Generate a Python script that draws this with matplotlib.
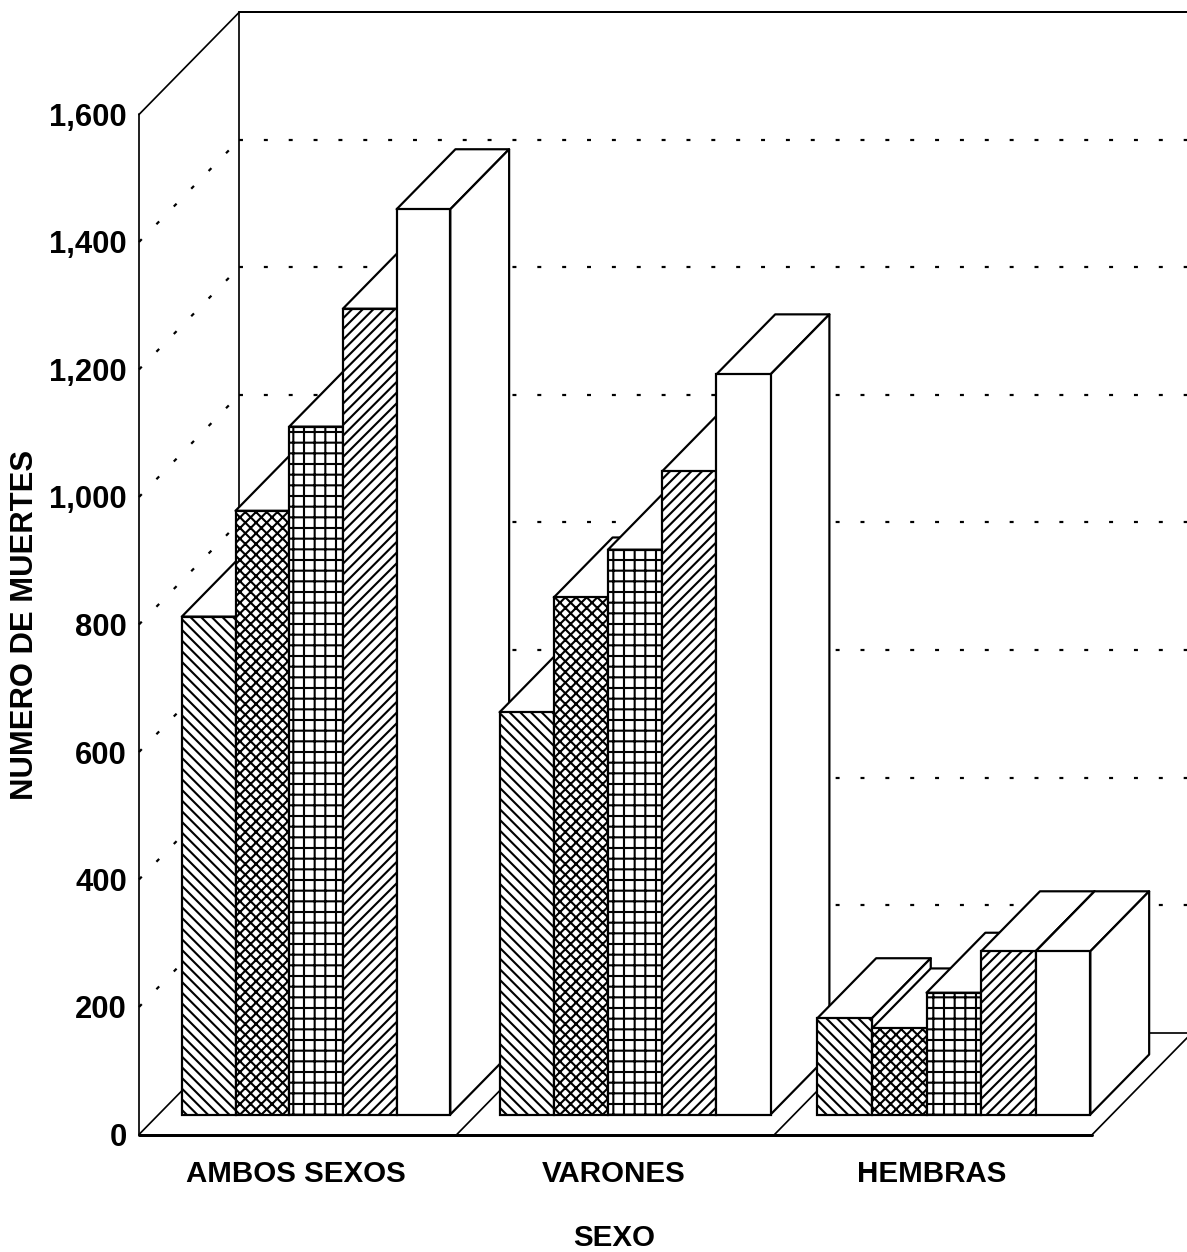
import matplotlib
matplotlib.use("Agg")
import matplotlib.pyplot as plt

# ---- data ----
groups = ["AMBOS SEXOS", "VARONES", "HEMBRAS"]
serie_1 = [781, 631, 151]
serie_2 = [947, 811, 135]
serie_3 = [1079, 886, 191]
serie_4 = [1264, 1009, 256]
serie_5 = [1420, 1161, 256]
y_ticks = [0, 200, 400, 600, 800, 1000, 1200, 1400, 1600]
y_tick_labels = ["0", "200", "400", "600", "800", "1,000", "1,200", "1,400", "1,600"]
hatches = ["\\\\", "xx", "+", "//", ""]
series = [serie_1, serie_2, serie_3, serie_4, serie_5]

# dpi 64 makes the hatch tile give about 10.7 px line spacing
W, H, DPI = 1187, 1252, 64
PT = 72 / DPI  # points per pixel
plt.rcParams["font.family"] = ["Liberation Sans", "DejaVu Sans"]
plt.rcParams["hatch.linewidth"] = 2.1 * PT
plt.rcParams["hatch.color"] = "black"

fig = plt.figure(figsize=(W / DPI, H / DPI), dpi=DPI, facecolor="white")
L, R, T, B = 139, 1092.3, 114.5, 1134.5
ax = fig.add_axes([L / W, 1 - B / H, (R - L) / W, (B - T) / H])
ax.set_xlim(0, 3)
ax.set_ylim(0, 1600)
for s in ax.spines.values():
    s.set_visible(False)
ax.patch.set_visible(False)

# oblique projection: depth 1 = whole chart depth
PX = (R - L) / 3  # pixels per group
DX = 100 / PX
DV = 102 / ((B - T) / 1600)


def proj(x, v, d):
    return x + d * DX, v + d * DV


def line3(p, q, **kw):
    a, b = proj(*p), proj(*q)
    style = dict(color="black", lw=1.7 * PT, clip_on=False, zorder=1, solid_capstyle="round")
    style.update(kw)
    ax.plot([a[0], b[0]], [a[1], b[1]], **style)


XMAX = 3
DOTS = (0, (1.8, 9.5))
# walls
line3((0, 0, 0), (0, 1600, 0))
line3((0, 1600, 0), (0, 1600, 1))
line3((0, 0, 1), (0, 1600, 1))
line3((0, 1600, 1), (XMAX, 1600, 1), lw=2 * PT)
line3((0, 0, 1), (XMAX, 0, 1))
# dotted gridlines
for t in y_ticks[1:-1]:
    line3((0, t, 0), (0, t, 1), ls=DOTS, lw=2.2 * PT, dash_capstyle="butt")
    line3((0, t, 1), (XMAX, t, 1), ls=DOTS, lw=2.2 * PT, dash_capstyle="butt")
# floor
line3((0, 0, 0), (XMAX, 0, 0), lw=3 * PT, zorder=2)
for g in range(len(groups) + 1):
    line3((g, 0, 0), (g, 0, 1), zorder=2)

# bars
BAR_W = [53.7 / PX, 54.2 / PX, 54.6 / PX]
X0 = 23.2 / PX
D0, D1 = 20 / 102, 80 / 102
EDGE = 2.2 * PT
z = 3
for g in range(len(groups)):
    w = BAR_W[g]
    for i, vals in enumerate(series):
        v = vals[g]
        x = g + X0 + i * w
        fx, base = proj(x, 0, D0)
        ax.bar(fx, v, width=w, bottom=base, align="edge", facecolor="white",
               edgecolor="black", hatch=hatches[i], linewidth=EDGE, clip_on=False, zorder=z + 0.2)
        # top face
        xy = [proj(*p) for p in [(x, v, D0), (x + w, v, D0), (x + w, v, D1), (x, v, D1)]]
        ax.fill([a for a, _ in xy], [b for _, b in xy], facecolor="white", edgecolor="black",
                lw=EDGE, clip_on=False, zorder=z, joinstyle="round")
        # right side face
        xy = [proj(*p) for p in [(x + w, 0, D0), (x + w, v, D0), (x + w, v, D1), (x + w, 0, D1)]]
        ax.fill([a for a, _ in xy], [b for _, b in xy], facecolor="white", edgecolor="black",
                lw=EDGE, clip_on=False, zorder=z + 0.1, joinstyle="round")
        z += 1

# axes text
ax.set_yticks(y_ticks)
ax.set_yticklabels(y_tick_labels, fontsize=31 * PT, fontweight="bold")
ax.set_xticks([g + 0.4935 for g in range(len(groups))])
ax.set_xticklabels(groups, fontsize=29.5 * PT, fontweight="bold")
ax.tick_params(axis="y", length=0, pad=12 * PT)
ax.tick_params(axis="x", length=0, pad=25 * PT)
ax.set_ylabel("NUMERO DE MUERTES", fontsize=31 * PT, fontweight="bold", va="center")
ax.yaxis.set_label_coords((25 - L) / (R - L), 0.4995)
ax.set_xlabel("SEXO", fontsize=29.5 * PT, fontweight="bold", va="center")
ax.xaxis.set_label_coords((614 - L) / (R - L), -(1238 - B) / (B - T))

fig.savefig("out.png", dpi=DPI, facecolor="white")
